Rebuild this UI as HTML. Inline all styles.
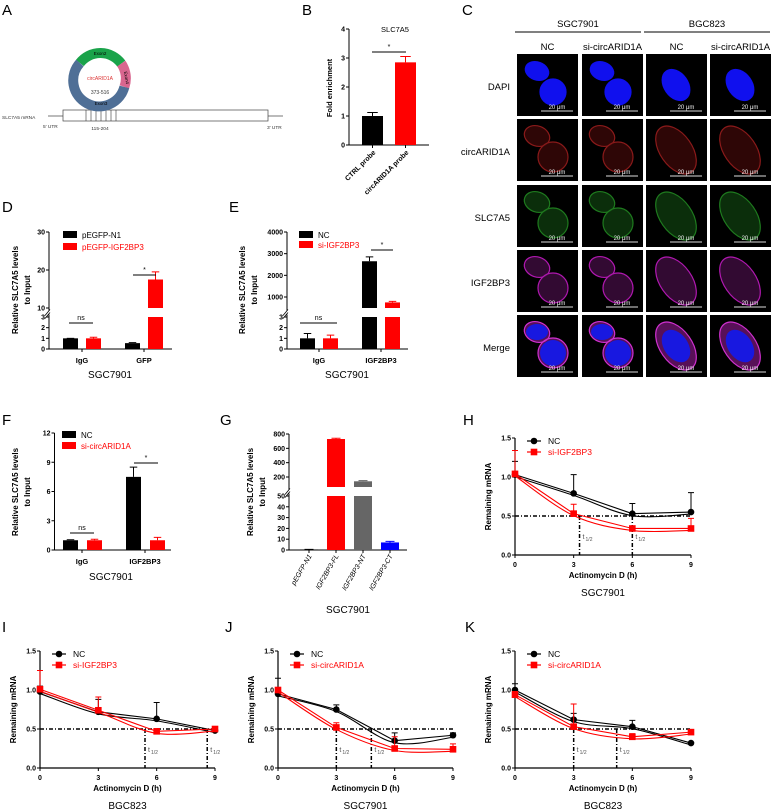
<!DOCTYPE html>
<html><head><meta charset="utf-8"><style>
html,body{margin:0;padding:0;background:#fff;}
svg{display:block;font-family:"Liberation Sans",sans-serif;}
</style></head><body>
<svg id="fig" xmlns="http://www.w3.org/2000/svg" width="777" height="811" viewBox="0 0 777 811">
<g>
<text x="2" y="15" font-size="15">A</text>
<line x1="48" y1="116" x2="283" y2="116" stroke="#777" stroke-width="1"/>
<rect x="63" y="110" width="205" height="11" fill="#fff" stroke="#444" stroke-width="0.7"/>
<g stroke="#333" stroke-width="0.6">
<line x1="86" y1="110" x2="86" y2="121"/><line x1="91" y1="110" x2="91" y2="121"/><line x1="96" y1="110" x2="96" y2="121"/><line x1="101" y1="110" x2="101" y2="121"/><line x1="106" y1="110" x2="106" y2="121"/><line x1="111" y1="110" x2="111" y2="121"/><line x1="116" y1="110" x2="116" y2="121"/></g>
<path d="M79.9,63.0 A26,26 0 0,1 121.3,63.6" fill="none" stroke="#1aa34a" stroke-width="10"/>
<path d="M121.3,63.6 A26,26 0 0,1 124.4,86.9" fill="none" stroke="#d9668f" stroke-width="10"/>
<path d="M124.4,86.9 A26,26 0 1,1 79.9,63.0" fill="none" stroke="#4f6f96" stroke-width="10"/>
<text x="100" y="55" font-size="4.5" text-anchor="middle">Exon2</text>
<text x="125" y="78" font-size="4.5" text-anchor="middle" transform="rotate(80 125 78)">Exon4</text>
<text x="100" y="80" font-size="5" fill="#d33" text-anchor="middle">circARID1A</text>
<text x="100" y="94" font-size="5" fill="#333" text-anchor="middle">373-516</text>
<text x="101" y="105" font-size="4.5" text-anchor="middle">Exon3</text>
<text x="2" y="119" font-size="4.8" fill="#333">SLC7A5 mRNA</text>
<text x="43" y="128" font-size="4.8" fill="#333">5' UTR</text>
<text x="100" y="130" font-size="4.8" fill="#333" text-anchor="middle">115-204</text>
<text x="267" y="129" font-size="4.8" fill="#333">3' UTR</text>
</g>
<g id="letters" font-size="15">
<text x="302" y="15">B</text>
<text x="462" y="15">C</text>
<text x="2" y="212">D</text>
<text x="229" y="212">E</text>
<text x="2" y="425">F</text>
<text x="220" y="425">G</text>
<text x="463" y="425">H</text>
<text x="2" y="632">I</text>
<text x="225" y="632">J</text>
<text x="465" y="632">K</text>
</g>
</svg>
<script>
// ---------- data ----------
const bCats = ["CTRL probe","circARID1A probe"];
const bVals = [1.0, 2.85];
const bErr = [1.12, 3.05];
const bTicks = [0,1,2,3,4];

const dCats = ["IgG","GFP"];
const dBlack = [1.0, 0.55];
const dBlackErr = [1.0, 0.6];
const dRed = [1.0, 17.5];
const dRedErr = [1.1, 19.5];
const dTicksLow = [0,1,2,3];
const dTicksHigh = [10,20,30];

const eCats = ["IgG","IGF2BP3"];
const eBlack = [1.0, 2650];
const eBlackErr = [1.45, 2850];
const eRed = [1.0, 750];
const eRedErr = [1.3, 800];
const eTicksLow = [0,1,2,3];
const eTicksHigh = [1000,2000,3000,4000];

const fCats = ["IgG","IGF2BP3"];
const fBlack = [1.0, 7.5];
const fBlackErr = [1.05, 8.5];
const fRed = [1.0, 1.0];
const fRedErr = [1.1, 1.3];
const fTicks = [0,3,6,9,12];

const gCats = ["pEGFP-N1","IGF2BP3-FL","IGF2BP3-NT","IGF2BP3-CT"];
const gVals = [0.5, 730, 140, 7];
const gErr = [0.6, 740, 150, 8];
const gTicksLow = [0,10,20,30,40,50];
const gTicksHigh = [200,400,600,800];

const timePts = [0,3,6,9];
const hNC = [1.03, 0.79, 0.53, 0.55];
const hNCErr = [1.2, 1.03, 0.66, 0.8];
const hRed = [1.04, 0.53, 0.34, 0.34];
const hRedErr = [1.34, 0.65, 0.36, 0.47];
const hHalf = [3.3, 6.0];

const iNC = [0.98, 0.72, 0.63, 0.48];
const iNCErr = [1.05, 0.88, 0.84, 0.5];
const iRed = [1.01, 0.74, 0.47, 0.5];
const iRedErr = [1.25, 0.91, 0.5, 0.53];
const iHalf = [5.4, 8.6];

const jNC = [0.95, 0.75, 0.35, 0.42];
const jNCErr = [1.15, 0.81, 0.45, 0.45];
const jRed = [1.0, 0.52, 0.25, 0.24];
const jRedErr = [1.03, 0.58, 0.4, 0.31];
const jHalf = [3.0, 4.8];

const kNC = [1.0, 0.62, 0.53, 0.32];
const kNCErr = [1.08, 0.7, 0.61, 0.33];
const kRed = [0.94, 0.53, 0.4, 0.46];
const kRedErr = [0.98, 0.82, 0.44, 0.49];
const kHalf = [3.0, 5.2];

const lineTicksY = [0, 0.5, 1.0, 1.5];
const lineTicksYLabels = ["0.0","0.5","1.0","1.5"];

// ---------- helpers ----------
const NS = "http://www.w3.org/2000/svg";
const svg = document.getElementById('fig');
function mk(tag, attrs, parent){
  const e = document.createElementNS(NS, tag);
  for (const k in attrs) e.setAttribute(k, attrs[k]);
  (parent||svg).appendChild(e);
  return e;
}
function txt(parent, x, y, s, size, extra){
  const t = mk('text', Object.assign({x:x, y:y, 'font-size':size}, extra||{}), parent);
  t.textContent = s;
  return t;
}
function grp(name){
  const g = mk('g', {});
  
  
  return g;
}
function mark(e, name){
  
  
}

function makeScale(c){
  return function(v){
    if (!c.high || v <= c.lowMax) return c.y0 - (v - 0) * c.lowPpu;
    return c.hiP0 - (v - c.hiD0) * c.hiPpu;
  };
}
function yTitle(g, x, cy, lines, size){
  lines.forEach((s, i) => {
    const t = txt(g, x + i*12, cy, s, size, {'text-anchor':'middle','font-weight':'bold',transform:'rotate(-90 '+(x+i*12)+' '+cy+')'});
    mark(t, 'y-axis-title');
  });
}
function drawAxisBars(g, c, sc){
  const ax = mk('line', {x1:c.ax, y1:c.y0, x2:c.ax, y2:c.top, stroke:'#000','stroke-width':1}, g);
  mark(ax, 'y-axis');
  const xa = mk('line', {x1:c.ax, y1:c.y0, x2:c.axEnd, y2:c.y0, stroke:'#000','stroke-width':1}, g);
  mark(xa, 'x-axis');
  const all = c.ticksLow.concat(c.ticksHigh||[]);
  all.forEach(v => {
    const y = sc(v);
    const tk = mk('line', {x1:c.ax-3, y1:y, x2:c.ax, y2:y, stroke:'#000'}, g);
    mark(tk, 'y-tick');
    const t = txt(g, c.ax-4, y+2.5, String(v), c.tickSize||7, {'text-anchor':'end','font-weight':'bold'});
    mark(t, 'y-tick-label');
  });
  if (c.high){
    const bm = (sc(c.lowMax) + c.hiStart)/2;
    const br = mk('rect', {x:c.ax-4, y:bm-2, width:8, height:4, fill:'#fff'}, g);
    mark(br, 'axis-break-gap');
    const b1 = mk('path', {d:'M'+(c.ax-4)+','+(bm+3)+' L'+(c.ax+1)+','+(bm-3)+' M'+(c.ax-4)+','+(bm+6)+' L'+(c.ax+1)+','+(bm)+'', stroke:'#000', fill:'none','stroke-width':0.8}, g);
    mark(b1, 'axis-break');
  }
}
function bar(g, c, sc, x, w, v, err, color, name){
  if (!c.high || v <= c.lowMax){
    const r = mk('rect', {x:x, y:sc(v), width:w, height:c.y0-sc(v), fill:color}, g);
    mark(r, name);
  } else {
    const r1 = mk('rect', {x:x, y:sc(c.lowMax), width:w, height:c.y0-sc(c.lowMax), fill:color}, g);
    mark(r1, name + '-lower');
    const r2 = mk('rect', {x:x, y:sc(v), width:w, height:c.hiStart-sc(v), fill:color}, g);
    mark(r2, name + '-upper');
  }
  const cx = x + w/2, ye = sc(err), yt = sc(v);
  const e = mk('path', {d:'M'+cx+','+yt+' L'+cx+','+ye+' M'+(cx-w/4)+','+ye+' L'+(cx+w/4)+','+ye, stroke:color, fill:'none','stroke-width':1}, g);
  mark(e, name + '-error');
}
function legendBox(g, x, y, color, label, size){
  const r = mk('rect', {x:x, y:y-5, width:14, height:7, fill:color}, g);
  mark(r, 'legend-swatch');
  const t = txt(g, x+19, y+2, label, size||9, {fill: color==='#000'?'#000':color});
  mark(t, 'legend-label');
}
function sig(g, x1, x2, y, s){
  const l = mk('line', {x1:x1, y1:y, x2:x2, y2:y, stroke:'#000','stroke-width':1}, g);
  mark(l, 'significance-line');
  const t = txt(g, (x1+x2)/2, y-3, s, 7, {'text-anchor':'middle'});
  mark(t, 'significance-label');
}

// ---------- Panel B ----------
(function(){
  const g = grp('panel-b-chart');
  const c = {ax:349, axEnd:429, y0:145, top:29, lowPpu:29, ticksLow:bTicks};
  const sc = makeScale(c);
  drawAxisBars(g, c, sc);
  const cols = ['#000','#f00'];
  bCats.forEach((cat,i) => {
    const x = 362 + i*33;
    bar(g, c, sc, x, 21, bVals[i], bErr[i], cols[i], 'bar-' + i);
    const tk = mk('line', {x1:x+10.5, y1:145, x2:x+10.5, y2:148, stroke:'#000'}, g);
    mark(tk, 'x-tick');
    const t = txt(g, x+14, 153, cat, 7, {'text-anchor':'end','font-weight':'bold',transform:'rotate(-45 '+(x+14)+' 153)'});
    mark(t, 'x-tick-label');
  });
  const tt = txt(g, 395, 32, 'SLC7A5', 7.5, {'text-anchor':'middle'}); mark(tt, 'chart-title');
  sig(g, 372, 406, 52, '*');
  yTitle(g, 332, 88, ['Fold enrichment'], 7.5);
})();

// ---------- Panel D ----------
(function(){
  const g = grp('panel-d-chart');
  const c = {ax:49, axEnd:172, y0:349, top:232, lowPpu:32/3, lowMax:3, high:true, hiD0:10, hiP0:308, hiPpu:76/20, hiStart:308, ticksLow:dTicksLow, ticksHigh:dTicksHigh};
  const sc = makeScale(c);
  drawAxisBars(g, c, sc);
  dCats.forEach((cat,i) => {
    const cx = 82 + i*62;
    bar(g, c, sc, cx-19, 15, dBlack[i], dBlackErr[i], '#000', 'bar-pegfp-n1-'+cat);
    bar(g, c, sc, cx+4, 15, dRed[i], dRedErr[i], '#f00', 'bar-pegfp-igf2bp3-'+cat);
    const tk = mk('line', {x1:cx, y1:349, x2:cx, y2:352, stroke:'#000'}, g); mark(tk,'x-tick');
    const t = txt(g, cx, 363, cat, 7.5, {'text-anchor':'middle','font-weight':'bold'}); mark(t,'x-tick-label');
  });
  legendBox(g, 63, 236, '#000', 'pEGFP-N1', 8);
  legendBox(g, 63, 248, '#f00', 'pEGFP-IGF2BP3', 8);
  sig(g, 69, 93, 323, 'ns');
  sig(g, 133, 156, 275, '*');
  const s = txt(g, 110, 378, 'SGC7901', 10, {'text-anchor':'middle'}); mark(s,'x-axis-title');
  yTitle(g, 18, 290, ['Relative SLC7A5 levels','to Input'], 8);
})();

// ---------- Panel E ----------
(function(){
  const g = grp('panel-e-chart');
  const c = {ax:287, axEnd:408, y0:349, top:232, lowPpu:32/3, lowMax:3, high:true, hiD0:1000, hiP0:297, hiPpu:65/3000, hiStart:308, ticksLow:eTicksLow, ticksHigh:eTicksHigh};
  const sc = makeScale(c);
  drawAxisBars(g, c, sc);
  eCats.forEach((cat,i) => {
    const cx = 319 + i*62;
    bar(g, c, sc, cx-19, 15, eBlack[i], eBlackErr[i], '#000', 'bar-nc-'+cat);
    bar(g, c, sc, cx+4, 15, eRed[i], eRedErr[i], '#f00', 'bar-si-igf2bp3-'+cat);
    const tk = mk('line', {x1:cx, y1:349, x2:cx, y2:352, stroke:'#000'}, g); mark(tk,'x-tick');
    const t = txt(g, cx, 363, cat, 7.5, {'text-anchor':'middle','font-weight':'bold'}); mark(t,'x-tick-label');
  });
  legendBox(g, 299, 236, '#000', 'NC', 8);
  legendBox(g, 299, 246, '#f00', 'si-IGF2BP3', 8);
  sig(g, 300, 337, 323, 'ns');
  sig(g, 371, 393, 250, '*');
  const s = txt(g, 347, 378, 'SGC7901', 10, {'text-anchor':'middle'}); mark(s,'x-axis-title');
  yTitle(g, 245, 290, ['Relative SLC7A5 levels','to Input'], 8);
})();

// ---------- Panel F ----------
(function(){
  const g = grp('panel-f-chart');
  const c = {ax:54.5, axEnd:171, y0:550, top:433, lowPpu:117/12, ticksLow:fTicks};
  const sc = makeScale(c);
  drawAxisBars(g, c, sc);
  fCats.forEach((cat,i) => {
    const cx = 82 + i*63;
    bar(g, c, sc, cx-19, 15, fBlack[i], fBlackErr[i], '#000', 'bar-nc-'+cat);
    bar(g, c, sc, cx+5, 15, fRed[i], fRedErr[i], '#f00', 'bar-si-circarid1a-'+cat);
    const tk = mk('line', {x1:cx, y1:550, x2:cx, y2:553, stroke:'#000'}, g); mark(tk,'x-tick');
    const t = txt(g, cx, 564, cat, 7.5, {'text-anchor':'middle','font-weight':'bold'}); mark(t,'x-tick-label');
  });
  legendBox(g, 62, 436, '#000', 'NC', 8);
  legendBox(g, 62, 447, '#f00', 'si-circARID1A', 8);
  sig(g, 70, 94, 533, 'ns');
  sig(g, 134, 158, 463, '*');
  const s = txt(g, 111, 580, 'SGC7901', 10, {'text-anchor':'middle'}); mark(s,'x-axis-title');
  yTitle(g, 18, 492, ['Relative SLC7A5 levels','to Input'], 8);
})();

// ---------- Panel G ----------
(function(){
  const g = grp('panel-g-chart');
  const c = {ax:289, axEnd:407, y0:550, top:434, lowPpu:54/50, lowMax:50, high:true, hiD0:200, hiP0:477, hiPpu:43/600, hiStart:487, ticksLow:gTicksLow, ticksHigh:gTicksHigh};
  const sc = makeScale(c);
  drawAxisBars(g, c, sc);
  const cols = ['#000','#f00','#666','#00f'];
  gCats.forEach((cat,i) => {
    const cx = 309 + i*27;
    bar(g, c, sc, cx-9, 18, gVals[i], gErr[i], cols[i], 'bar-'+cat.toLowerCase());
    const tk = mk('line', {x1:cx, y1:550, x2:cx, y2:553, stroke:'#000'}, g); mark(tk,'x-tick');
    const t = txt(g, cx+3, 556, cat, 7, {'text-anchor':'end','font-style':'italic',transform:'rotate(-60 '+(cx+3)+' 556)'}); mark(t,'x-tick-label');
  });
  const s = txt(g, 348, 613, 'SGC7901', 10, {'text-anchor':'middle'}); mark(s,'x-axis-title');
  yTitle(g, 253, 492, ['Relative SLC7A5 levels','to Input'], 8);
})();

// ---------- line charts ----------
function smoothPath(pts){
  let d = 'M'+pts[0][0]+','+pts[0][1];
  for (let i=0;i<pts.length-1;i++){
    const p0 = pts[Math.max(0,i-1)], p1 = pts[i], p2 = pts[i+1], p3 = pts[Math.min(pts.length-1,i+2)];
    const c1x = p1[0] + (p2[0]-p0[0])/6, c1y = p1[1] + (p2[1]-p0[1])/6;
    const c2x = p2[0] - (p3[0]-p1[0])/6, c2y = p2[1] - (p3[1]-p1[1])/6;
    d += ' C'+c1x+','+c1y+' '+c2x+','+c2y+' '+p2[0]+','+p2[1];
  }
  return d;
}
function lineChart(cfg){
  const g = grp(cfg.name);
  const xs = v => cfg.x0 + v*(cfg.x9-cfg.x0)/9;
  const ys = v => cfg.y0 - v*cfg.ppu;
  const ya = mk('line', {x1:cfg.x0, y1:cfg.y0, x2:cfg.x0, y2:ys(1.5), stroke:'#000','stroke-width':1.2}, g); mark(ya,'y-axis');
  const xa = mk('line', {x1:cfg.x0, y1:cfg.y0, x2:cfg.x9, y2:cfg.y0, stroke:'#000','stroke-width':1.2}, g); mark(xa,'x-axis');
  lineTicksY.forEach((v,i) => {
    const tk = mk('line', {x1:cfg.x0-3, y1:ys(v), x2:cfg.x0, y2:ys(v), stroke:'#000'}, g); mark(tk,'y-tick');
    const t = txt(g, cfg.x0-4, ys(v)+2.5, lineTicksYLabels[i], 7, {'text-anchor':'end','font-weight':'bold'}); mark(t,'y-tick-label');
  });
  timePts.forEach(v => {
    const tk = mk('line', {x1:xs(v), y1:cfg.y0, x2:xs(v), y2:cfg.y0+3, stroke:'#000'}, g); mark(tk,'x-tick');
    const t = txt(g, xs(v), cfg.y0+12, String(v), 7, {'text-anchor':'middle','font-weight':'bold'}); mark(t,'x-tick-label');
  });
  const hl = mk('line', {x1:cfg.x0, y1:ys(0.5), x2:cfg.x9, y2:ys(0.5), stroke:'#000','stroke-width':1.5,'stroke-dasharray':'4,2,1,2'}, g); mark(hl,'half-level-line');
  cfg.half.forEach(h => {
    const vl = mk('line', {x1:xs(h), y1:ys(0.5), x2:xs(h), y2:cfg.y0, stroke:'#000','stroke-width':1.5,'stroke-dasharray':'4,2,1,2'}, g); mark(vl,'half-life-line');
    const t = txt(g, xs(h)+3, cfg.y0-16, 't', 7, {fill:'#555'}); mark(t,'half-life-label');
    const sub = txt(g, xs(h)+6, cfg.y0-14, '1/2', 5, {fill:'#555'}); mark(sub,'half-life-subscript');
  });
  const series = [{v:cfg.nc, e:cfg.ncErr, col:'#000', nm:'nc'}, {v:cfg.red, e:cfg.redErr, col:'#f00', nm:'red'}];
  series.forEach(s => {
    const pts = timePts.map((t,i) => [xs(t), ys(s.v[i])]);
    const pl = mk('polyline', {points: pts.map(p=>p.join(',')).join(' '), fill:'none', stroke:s.col,'stroke-width':1.1}, g); mark(pl, 'line-'+s.nm);
    const sp = mk('path', {d: smoothPath(pts), fill:'none', stroke:s.col,'stroke-width':1.1, transform:'translate(0,2)'}, g); mark(sp, 'fit-curve-'+s.nm);
    timePts.forEach((t,i) => {
      const x = xs(t), y = ys(s.v[i]), ye = ys(s.e[i]);
      const eb = mk('path', {d:'M'+x+','+y+' L'+x+','+ye+' M'+(x-3)+','+ye+' L'+(x+3)+','+ye, stroke:s.col, fill:'none','stroke-width':1}, g); mark(eb, 'error-bar-'+s.nm);
      let m;
      if (s.nm==='nc') m = mk('circle', {cx:x, cy:y, r:3.3, fill:'#000'}, g);
      else m = mk('rect', {x:x-3.3, y:y-3.3, width:6.6, height:6.6, fill:'#f00'}, g);
      mark(m, 'point-'+s.nm);
    });
  });
  const ly = cfg.y0 - 1.5*cfg.ppu + 3;
  const l1 = mk('line', {x1:cfg.x0+12, y1:ly, x2:cfg.x0+26, y2:ly, stroke:'#000','stroke-width':1.2}, g); mark(l1,'legend-line-nc');
  const m1 = mk('circle', {cx:cfg.x0+19, cy:ly, r:3.3, fill:'#000'}, g); mark(m1,'legend-marker-nc');
  const t1 = txt(g, cfg.x0+33, ly+3, 'NC', 8.5); mark(t1,'legend-label-nc');
  const l2 = mk('line', {x1:cfg.x0+12, y1:ly+11, x2:cfg.x0+26, y2:ly+11, stroke:'#f00','stroke-width':1.2}, g); mark(l2,'legend-line-red');
  const m2 = mk('rect', {x:cfg.x0+15.7, y:ly+7.7, width:6.6, height:6.6, fill:'#f00'}, g); mark(m2,'legend-marker-red');
  const t2 = txt(g, cfg.x0+33, ly+14, cfg.redLabel, 8.5, {fill:'#f00'}); mark(t2,'legend-label-red');
  const xt = txt(g, (cfg.x0+cfg.x9)/2, cfg.y0+23, 'Actinomycin D (h)', 8, {'text-anchor':'middle','font-weight':'bold'}); mark(xt,'x-axis-title');
  const ct = txt(g, (cfg.x0+cfg.x9)/2, cfg.y0+41, cfg.cell, 10, {'text-anchor':'middle'}); mark(ct,'cell-line-label');
  const yt = txt(g, cfg.x0-24, cfg.y0-0.75*cfg.ppu, 'Remaining mRNA', 8, {'text-anchor':'middle','font-weight':'bold',transform:'rotate(-90 '+(cfg.x0-24)+' '+(cfg.y0-0.75*cfg.ppu)+')'}); mark(yt,'y-axis-title');
}
lineChart({name:'panel-h-chart', x0:515, x9:691, y0:555, ppu:78, nc:hNC, ncErr:hNCErr, red:hRed, redErr:hRedErr, half:hHalf, redLabel:'si-IGF2BP3', cell:'SGC7901'});
lineChart({name:'panel-i-chart', x0:40, x9:215, y0:768, ppu:78, nc:iNC, ncErr:iNCErr, red:iRed, redErr:iRedErr, half:iHalf, redLabel:'si-IGF2BP3', cell:'BGC823'});
lineChart({name:'panel-j-chart', x0:278, x9:453, y0:768, ppu:78, nc:jNC, ncErr:jNCErr, red:jRed, redErr:jRedErr, half:jHalf, redLabel:'si-circARID1A', cell:'SGC7901'});
lineChart({name:'panel-k-chart', x0:515, x9:691, y0:768, ppu:78, nc:kNC, ncErr:kNCErr, red:kRed, redErr:kRedErr, half:kHalf, redLabel:'si-circARID1A', cell:'BGC823'});

// ---------- Panel C microscopy ----------
(function(){
  const g = grp('panel-c-microscopy');
  const colX = [517, 582, 646, 710];
  const rowY = [54, 119, 185, 250, 315];
  const rows = ['DAPI','circARID1A','SLC7A5','IGF2BP3','Merge'];
  const cols = ['NC','si-circARID1A','NC','si-circARID1A'];
  const fills = ['#1010ee','#3a0808','#0e3a0e','#3e0c3e','#b020b0'];
  const strokes = ['#1010ee','#8a1a1a','#1e7a1e','#b018b0','#d030d0'];
  [['SGC7901',515,641],['BGC823',644,770]].forEach(h => {
    const t = txt(g, (h[1]+h[2])/2, 27, h[0], 9.5, {'text-anchor':'middle'}); mark(t,'cell-line-header');
    const l = mk('line', {x1:h[1], y1:32, x2:h[2], y2:32, stroke:'#000','stroke-width':1}, g); mark(l,'header-rule');
  });
  cols.forEach((c,i) => { const t = txt(g, colX[i]+30.5, 50, c, 9.5, {'text-anchor':'middle'}); mark(t,'column-label'); });
  rows.forEach((r,j) => { const t = txt(g, 510, rowY[j]+36, r, 9.5, {'text-anchor':'end'}); mark(t,'row-label'); });
  rows.forEach((r,j) => {
    colX.forEach((x,i) => {
      const y = rowY[j];
      const bg = mk('rect', {x:x, y:y, width:61, height:62, fill:'#000'}, g); mark(bg,'micrograph');
      const isDapi = j===0, isMerge = j===4;
      const f = fills[j], s = strokes[j];
      const op = isDapi ? 1 : (isMerge ? 0.5 : 0.8);
      if (i < 2){
        const e1 = mk('ellipse', {cx:x+20, cy:y+17, rx:isDapi?12:13, ry:isDapi?9:10, fill:f, stroke:s,'stroke-width':1.2,'fill-opacity':op, transform:'rotate(20 '+(x+20)+' '+(y+17)+')'}, g); mark(e1,'cell');
        const e2 = mk('ellipse', {cx:x+36, cy:y+38, rx:isDapi?13:15, ry:isDapi?13:15, fill:f, stroke:s,'stroke-width':1.2,'fill-opacity':op}, g); mark(e2,'cell');
        if (isMerge){
          const n1 = mk('ellipse', {cx:x+20, cy:y+17, rx:11, ry:8, fill:'#1818e0'}, g); mark(n1,'nucleus');
          const n2 = mk('ellipse', {cx:x+36, cy:y+38, rx:13, ry:13, fill:'#1818e0'}, g); mark(n2,'nucleus');
        }
      } else {
        const rx = isDapi?12:16, ry = isDapi?17:27;
        const e = mk('ellipse', {cx:x+30, cy:y+31, rx:rx, ry:ry, fill:f, stroke:s,'stroke-width':1.2,'fill-opacity':op, transform:'rotate(-35 '+(x+30)+' '+(y+31)+')'}, g); mark(e,'cell');
        if (isMerge){
          const n = mk('ellipse', {cx:x+30, cy:y+31, rx:12, ry:18, fill:'#1818e0', transform:'rotate(-35 '+(x+30)+' '+(y+31)+')'}, g); mark(n,'nucleus');
        }
      }
      const sb = mk('line', {x1:x+24, y1:y+57, x2:x+56, y2:y+57, stroke:'#ddd','stroke-width':1}, g); mark(sb,'scale-bar');
      const st = txt(g, x+40, y+55, '20 μm', 6, {'text-anchor':'middle', fill:'#eee'}); mark(st,'scale-bar-label');
    });
  });
})();
</script>
</body></html>
